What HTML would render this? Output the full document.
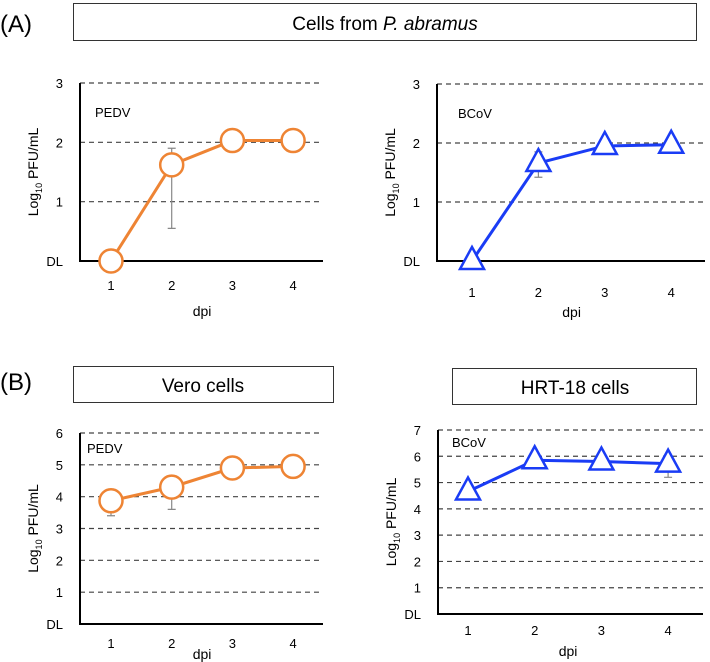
<!DOCTYPE html>
<html><head><meta charset="utf-8"><style>
body{margin:0;background:#fff;}
svg{display:block;font-family:"Liberation Sans",Arial,sans-serif;}
</style></head><body>
<svg id="fig" width="710" height="662" viewBox="0 0 710 662">
<text x="0" y="32" font-size="24">(A)</text>
<rect x="73.5" y="3.5" width="623" height="37" fill="#fff" stroke="#333"/>
<text x="385" y="30" font-size="19" text-anchor="middle">Cells from <tspan font-style="italic">P. abramus</tspan></text>
<text x="0" y="390" font-size="24">(B)</text>
<rect x="73.5" y="366.5" width="260" height="36" fill="#fff" stroke="#333"/>
<text x="203" y="392" font-size="19" text-anchor="middle">Vero cells</text>
<rect x="452.5" y="368.5" width="244" height="36" fill="#fff" stroke="#333"/>
<text x="575" y="394" font-size="19" text-anchor="middle">HRT-18 cells</text>
</svg>
<script>
const days=["1","2","3","4"];
const a1Values=[0,1.62,2.03,2.03];
const a1ErrLo=[0,0.55,1.95,1.95];
const a1ErrHi=[0,1.9,2.08,2.08];
const a1Ticks=["DL","1","2","3"];
const a2Values=[0,1.66,1.95,1.97];
const a2ErrLo=[0,1.42,1.9,1.95];
const a2ErrHi=[0,1.85,2.0,2.0];
const a2Ticks=["DL","1","2","3"];
const b1Values=[3.87,4.3,4.9,4.95];
const b1ErrLo=[3.4,3.6,4.8,4.85];
const b1ErrHi=[3.95,4.4,4.95,5.0];
const b1Ticks=["DL","1","2","3","4","5","6"];
const b2Values=[4.66,5.85,5.8,5.72];
const b2ErrLo=[4.6,5.8,5.75,5.2];
const b2ErrHi=[4.8,5.9,5.85,5.8];
const b2Ticks=["DL","1","2","3","4","5","6","7"];

const NS="http://www.w3.org/2000/svg";
const svg=document.getElementById('fig');
function mk(tag,attrs,parent){const e=document.createElementNS(NS,tag);for(const k in attrs)e.setAttribute(k,attrs[k]);(parent||svg).appendChild(e);return e;}

function panel(cfg,vals,lo,hi,ticks){
  const g=mk('g',{});
  
  
  const n=ticks.length-1;
  const ys=v=>cfg.bot-(v/n)*(cfg.bot-cfg.top);
  const xs=i=>cfg.x1+i*cfg.dx;
  for(let i=1;i<=n;i++){
    const l=mk('line',{x1:cfg.ax,x2:cfg.right,y1:ys(i),y2:ys(i),stroke:'#444','stroke-width':1.2,'stroke-dasharray':'5,4'},g);
    
    
  }
  ticks.forEach((t,i)=>{
    const tx=mk('text',{x:cfg.ax-17,y:ys(i)+5,'font-size':13,'text-anchor':'end'},g);
    tx.textContent=t;
    
    
  });
  const ax=mk('path',{d:`M${cfg.ax},${cfg.top} V${cfg.bot} H${cfg.right}`,fill:'none',stroke:'#000','stroke-width':2},g);
  
  
  days.forEach((d,i)=>{
    const tx=mk('text',{x:xs(i),y:cfg.tickY,'font-size':13,'text-anchor':'middle'},g);
    tx.textContent=d;
    
    
  });
  const xt=mk('text',{x:(xs(0)+xs(3))/2,y:cfg.dpiY,'font-size':14,'text-anchor':'middle'},g);
  xt.textContent='dpi';
  
  
  const cy=(cfg.top+cfg.bot)/2;
  const yt=mk('text',{x:0,y:0,'font-size':14,'text-anchor':'middle',transform:`translate(${cfg.ax-42},${cy}) rotate(-90)`},g);
  yt.innerHTML='Log<tspan font-size="9" dy="4">10</tspan><tspan dy="-4"> PFU/mL</tspan>';
  
  
  const lb=mk('text',{x:cfg.lblX,y:cfg.lblY,'font-size':13},g);
  lb.textContent=cfg.label;
  
  
  vals.forEach((v,i)=>{
    if(hi[i]-lo[i]<0.01)return;
    const e=mk('path',{d:`M${xs(i)-4},${ys(lo[i])}H${xs(i)+4}M${xs(i)},${ys(lo[i])}V${ys(hi[i])}M${xs(i)-4},${ys(hi[i])}H${xs(i)+4}`,stroke:'#888','stroke-width':1.2,fill:'none'},g);
    
    
  });
  const pl=mk('polyline',{points:vals.map((v,i)=>xs(i)+','+ys(v)).join(' '),fill:'none',stroke:cfg.color,'stroke-width':3},g);
  
  
  vals.forEach((v,i)=>{
    let m;
    if(cfg.marker==='circle'){
      m=mk('circle',{cx:xs(i),cy:ys(v),r:11.5,fill:'#fff',stroke:cfg.color,'stroke-width':2.5},g);
    }else{
      const x=xs(i),y=ys(v);
      m=mk('polygon',{points:`${x},${y-14} ${x-12},${y+8} ${x+12},${y+8}`,fill:'#fff',stroke:cfg.color,'stroke-width':2.5},g);
    }
    
    
  });
}
panel({name:'chart-a-pedv',ax:80,right:323,top:83,bot:261,x1:111,dx:60.7,tickY:290,dpiY:316,lblX:95,lblY:117,label:'PEDV',color:'#EE8434',marker:'circle'},a1Values,a1ErrLo,a1ErrHi,a1Ticks);
panel({name:'chart-a-bcov',ax:437,right:705,top:84,bot:261,x1:472,dx:66.4,tickY:297,dpiY:317,lblX:458,lblY:118,label:'BCoV',color:'#1A3CF5',marker:'triangle'},a2Values,a2ErrLo,a2ErrHi,a2Ticks);
panel({name:'chart-b-vero-pedv',ax:80,right:323,top:433,bot:624,x1:111,dx:60.7,tickY:648,dpiY:659,lblX:87,lblY:453,label:'PEDV',color:'#EE8434',marker:'circle'},b1Values,b1ErrLo,b1ErrHi,b1Ticks);
panel({name:'chart-b-hrt18-bcov',ax:438,right:703,top:430,bot:614,x1:468,dx:66.7,tickY:635,dpiY:656,lblX:452,lblY:447,label:'BCoV',color:'#1A3CF5',marker:'triangle'},b2Values,b2ErrLo,b2ErrHi,b2Ticks);
</script>
</body></html>
